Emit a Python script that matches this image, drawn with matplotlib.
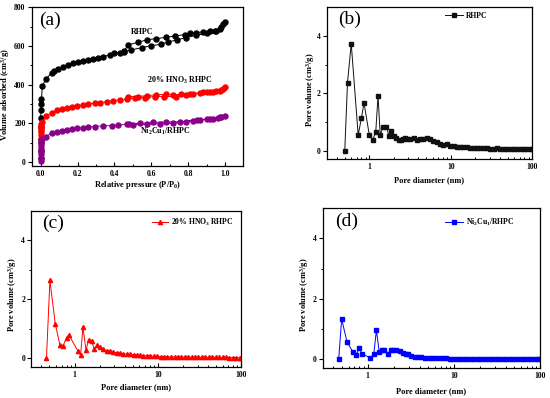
import matplotlib
matplotlib.use("Agg")
import matplotlib.pyplot as plt
from matplotlib.ticker import MultipleLocator, FixedLocator, LogLocator, NullFormatter, FuncFormatter

plt.rcParams['font.family'] = ['Liberation Serif', 'DejaVu Serif']
plt.rcParams['font.weight'] = 'bold'
plt.rcParams['mathtext.fontset'] = 'custom'
plt.rcParams['mathtext.rm'] = 'Liberation Serif:bold'
plt.rcParams['mathtext.it'] = 'Liberation Serif:bold'
plt.rcParams['mathtext.bf'] = 'Liberation Serif:bold'

# ---------------- Panel (a): N2 isotherms ----------------
p_low = [0.00001, 0.00003, 0.0001, 0.0003, 0.0006, 0.001, 0.002, 0.004]
rhpc_low = [20, 60, 120, 180, 230, 270, 300, 325]
hno3_low = [100, 120, 140, 155, 165, 175, 185, 195]
ni_low = [5, 20, 40, 55, 70, 85, 100, 110]

rhpc_ads_p = [0.009, 0.027, 0.06, 0.072, 0.096, 0.12, 0.15, 0.177, 0.204, 0.23, 0.258, 0.285,
              0.31, 0.34, 0.375, 0.40, 0.43, 0.45, 0.49, 0.55, 0.60, 0.65, 0.69, 0.74, 0.79,
              0.845, 0.90, 0.95, 0.98, 1.0]
rhpc_ads_v = [394, 428, 463, 471, 484, 494, 502, 511, 518, 525, 528, 535,
              540, 546, 554, 563, 566, 571, 580, 592, 602, 609, 621, 632, 644,
              656, 666, 680, 700, 726]
rhpc_des_p = [0.99, 0.97, 0.945, 0.917, 0.88, 0.845, 0.81, 0.78, 0.727, 0.68, 0.628, 0.574, 0.53, 0.475, 0.45]
rhpc_des_v = [712, 687, 680, 676, 673, 670, 666, 659, 652, 645, 639, 632, 620, 606, 572]

hno3_ads_p = [0.009, 0.027, 0.06, 0.087, 0.114, 0.14, 0.168, 0.195, 0.23, 0.258, 0.294, 0.32,
              0.357, 0.39, 0.43, 0.466, 0.51, 0.565, 0.62, 0.67, 0.736, 0.79, 0.827, 0.863,
              0.90, 0.935, 0.97, 0.99, 1.0]
hno3_ads_v = [210, 236, 256, 267, 275, 282, 287, 291, 296, 299, 305, 308,
              313, 317, 322, 325, 330, 334, 339, 339, 339, 348, 354, 356,
              360, 363, 368, 377, 387]
hno3_des_p = [0.98, 0.953, 0.917, 0.88, 0.81, 0.76, 0.72, 0.68, 0.628, 0.574, 0.53, 0.475]
hno3_des_v = [374, 366, 365, 361, 352, 351, 348, 351, 348, 344, 339, 339]

ni_ads_p = [0.009, 0.027, 0.06, 0.087, 0.114, 0.14, 0.168, 0.195, 0.23, 0.258, 0.294, 0.34,
            0.385, 0.42, 0.466, 0.50, 0.574, 0.646, 0.72, 0.79, 0.827, 0.863, 0.90, 0.935,
            0.96, 0.98, 1.0]
ni_ads_v = [118, 132, 150, 155, 160, 167, 170, 174, 179, 181, 184, 188,
            189, 191, 196, 193, 196, 198, 201, 210, 215, 218, 222, 224,
            229, 232, 239]
ni_des_p = [0.97, 0.92, 0.85, 0.755, 0.68, 0.61, 0.54, 0.48]
ni_des_v = [231, 224, 217, 208, 208, 205, 201, 197]

# ---------------- Panels (b)-(d): pore size distributions ----------------
tail_d = [2.9, 3.2, 3.5, 3.8, 4.2, 4.6, 5.1, 5.6, 6.1, 6.7, 7.4, 8.1, 8.9, 9.8, 10.8, 11.9,
          13.0, 14.3, 15.8, 17.3, 19.0, 20.9, 23.0, 25.3, 27.8, 30.6, 33.6, 37.0, 40.7, 44.7,
          49.2, 54.1, 59.5, 65.4, 72.0, 79.2, 87.1, 95.8, 100.0]

b_head_d = [0.50, 0.54, 0.60, 0.73, 0.80, 0.86, 1.00, 1.10, 1.20, 1.28, 1.36, 1.48, 1.62,
            1.74, 1.87, 2.00, 2.15, 2.30, 2.45, 2.62, 2.75]
b_head_v = [0, 2.37, 3.73, 0.55, 1.13, 1.67, 0.55, 0.37, 0.66, 1.92, 0.55, 0.84, 0.84,
            0.51, 0.70, 0.51, 0.43, 0.38, 0.37, 0.40, 0.45]
b_tail_v = [0.41, 0.40, 0.45, 0.38, 0.40, 0.42, 0.43, 0.40, 0.35, 0.30, 0.24, 0.21, 0.23, 0.18,
            0.15, 0.14, 0.13, 0.12, 0.12, 0.11, 0.10, 0.10, 0.09, 0.09, 0.08, 0.07, 0.07, 0.08,
            0.07, 0.07, 0.07, 0.06, 0.07, 0.06, 0.07, 0.06, 0.05, 0.06, 0.06]

c_head_d = [0.46, 0.506, 0.586, 0.667, 0.73, 0.80, 0.855, 1.087, 1.18, 1.26, 1.37, 1.47, 1.60,
            1.72, 1.87, 2.01, 2.21, 2.42, 2.65]
c_head_v = [0, 2.64, 1.16, 0.44, 0.42, 0.69, 0.78, 0.25, 0.09, 1.05, 0.26, 0.61, 0.59,
            0.30, 0.44, 0.36, 0.30, 0.25, 0.22]
c_tail_v = [0.20, 0.18, 0.16, 0.14, 0.13, 0.12, 0.11, 0.10, 0.09, 0.08, 0.07, 0.065, 0.055, 0.05,
            0.045, 0.04, 0.04, 0.035, 0.035, 0.03, 0.03, 0.03, 0.025, 0.025, 0.025, 0.02, 0.02,
            0.02, 0.02, 0.02, 0.015, 0.015, 0.015, 0.015, 0.01, 0.01, 0.01, 0.01, 0.01]

d_head_d = [0.46, 0.498, 0.574, 0.668, 0.731, 0.80, 0.851, 1.074, 1.175, 1.26, 1.36, 1.46,
            1.56, 1.71, 1.84, 1.98, 2.14, 2.34, 2.56, 2.75]
d_head_v = [0, 1.33, 0.58, 0.25, 0.13, 0.37, 0.19, 0.04, 0.17, 0.96, 0.25, 0.31,
            0.29, 0.19, 0.29, 0.30, 0.29, 0.26, 0.22, 0.19]
d_tail_v = [0.16, 0.11, 0.09, 0.07, 0.06, 0.055, 0.05, 0.045, 0.04, 0.035, 0.03, 0.025, 0.02,
            0.02, 0.02, 0.015, 0.015, 0.015, 0.015, 0.01, 0.01, 0.01, 0.01, 0.01, 0.01, 0.01,
            0.01, 0.01, 0.005, 0.005, 0.005, 0.005, 0.005, 0.005, 0.005, 0.005, 0.005, 0.005, 0.005]

label_b = 'RHPC'
label_c = r'20% HNO$_3$ RHPC'
label_d = r'Ni$_2$Cu$_1$/RHPC'

W, H = 550, 398
fig = plt.figure(figsize=(W / 100, H / 100), dpi=100)


def px_axes(l, r, t, b):
    return fig.add_axes([l / W, 1 - b / H, (r - l) / W, (b - t) / H])


def style(ax):
    for s in ax.spines.values():
        s.set_linewidth(0.9)
    ax.tick_params(axis='x', which='both', direction='in', top=False, labelsize=5.5, pad=3)
    ax.tick_params(axis='y', which='both', direction='out', right=False, labelsize=5.5, pad=1.5)
    ax.tick_params(which='major', length=2.8, width=0.8)
    ax.tick_params(which='minor', length=1.6, width=0.7)
    for lab in ax.get_xticklabels() + ax.get_yticklabels():
        lab.set_fontweight('bold')


# ---- (a)
axa = px_axes(31.5, 243.5, 7, 166)
mk = dict(marker='o', markersize=3.6, linewidth=0.7)
axa.plot(p_low + rhpc_ads_p + rhpc_des_p, rhpc_low + rhpc_ads_v + rhpc_des_v, color='black', **mk)
axa.plot(p_low + hno3_ads_p + hno3_des_p, hno3_low + hno3_ads_v + hno3_des_v, color='#ff0000', **mk)
axa.plot(p_low + ni_ads_p + ni_des_p, ni_low + ni_ads_v + ni_des_v, color='#8b008b', **mk)
axa.set_xlim(-0.05, 1.1)
axa.set_ylim(-20, 802)
axa.xaxis.set_major_locator(FixedLocator([0.0, 0.2, 0.4, 0.6, 0.8, 1.0]))
axa.xaxis.set_major_formatter(FuncFormatter(lambda v, p: f'{v:.1f}'))
axa.xaxis.set_minor_locator(FixedLocator([0.1, 0.3, 0.5, 0.7, 0.9]))
axa.yaxis.set_major_locator(MultipleLocator(200))
axa.yaxis.set_minor_locator(MultipleLocator(100))
style(axa)
axa.set_xlabel(r'Relative pressure (P/P$_0$)', fontsize=6, fontweight='bold')
axa.set_ylabel(r'Volume adsorbed (cm$^3$/g)', fontsize=6, fontweight='bold')
axa.xaxis.set_label_coords(0.5, -0.082)
axa.yaxis.set_label_coords(-0.092, 0.45)
axa.text(0.035, 0.97, '(a)', transform=axa.transAxes, fontsize=14, fontweight='normal', va='top', ha='left')
axa.text(0.52, 0.845, 'RHPC', transform=axa.transAxes, fontsize=5.8, fontweight='bold', ha='center', va='center')
axa.text(0.70, 0.54, r'20% HNO$_3$ RHPC', transform=axa.transAxes, fontsize=5.8, fontweight='bold', ha='center', va='center')
axa.text(0.63, 0.215, r'Ni$_2$Cu$_1$/RHPC', transform=axa.transAxes, fontsize=5.8, fontweight='bold', ha='center', va='center')


def psd(ax, d, v, color, marker, ms, label, tag, ylab_x, xlab_y, leg_xy, hl):
    ax.plot(d, v, color=color, marker=marker, markersize=ms, linewidth=0.7, label=label)
    ax.set_xscale('log')
    ax.set_xlim(0.3, 100)
    ax.set_ylim(-0.3, 5.0)
    ax.xaxis.set_major_locator(FixedLocator([1, 10, 100]))
    ax.xaxis.set_major_formatter(FuncFormatter(lambda val, p: f'{val:g}'))
    ax.xaxis.set_minor_locator(LogLocator(base=10, subs=[2, 3, 4, 5, 6, 7, 8, 9]))
    ax.xaxis.set_minor_formatter(NullFormatter())
    ax.yaxis.set_major_locator(FixedLocator([0, 2, 4]))
    ax.yaxis.set_minor_locator(FixedLocator([1, 3]))
    style(ax)
    ax.set_xlabel('Pore diameter (nm)', fontsize=6, fontweight='bold')
    ax.set_ylabel(r'Pore volume (cm$^3$/g)', fontsize=6, fontweight='bold')
    ax.xaxis.set_label_coords(0.5, xlab_y)
    ax.yaxis.set_label_coords(ylab_x, 0.46)
    ax.text(0.055, 0.975, tag, transform=ax.transAxes, fontsize=14, fontweight='normal', va='top', ha='left')
    leg = ax.legend(loc='upper left', bbox_to_anchor=leg_xy, frameon=False, fontsize=5.5,
                    handlelength=hl, handletextpad=0.4, borderaxespad=0.0, borderpad=0.0)
    for t in leg.get_texts():
        t.set_fontweight('bold')


axb = px_axes(326.7, 532.3, 7.3, 159.3)
psd(axb, b_head_d + tail_d, b_head_v + b_tail_v, '#111111', 's', 2.8, label_b, '(b)',
    -0.047, -0.11, (0.575, 0.972), 2.4)
axc = px_axes(31, 241.3, 211, 366.7)
psd(axc, c_head_d + tail_d, c_head_v + c_tail_v, '#ff0000', '^', 3.0, label_c, '(c)',
    -0.057, -0.109, (0.575, 0.965), 2.1)
axd = px_axes(322.7, 540, 208.3, 368.3)
psd(axd, d_head_d + tail_d, d_head_v + d_tail_v, '#0000ff', 's', 2.8, label_d, '(d)',
    -0.055, -0.117, (0.563, 0.949), 2.4)

fig.savefig('out.png', dpi=100)
